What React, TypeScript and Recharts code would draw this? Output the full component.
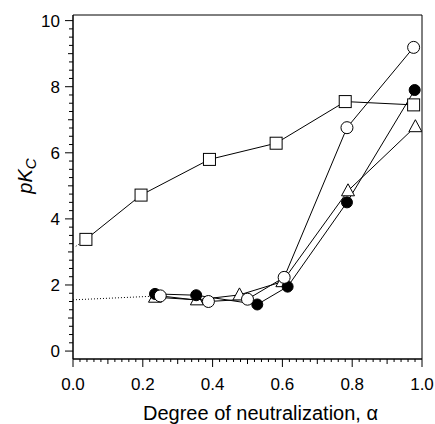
import {
  LineChart,
  Line,
  XAxis,
  YAxis,
  ReferenceArea,
} from 'recharts'

interface Point {
  x: number
  y: number
}

// open squares
const squareAlpha = [0.037, 0.195, 0.391, 0.582, 0.78, 0.976]
const squarePk = [3.38, 4.72, 5.8, 6.29, 7.55, 7.45]

// filled circles
const filledAlpha = [0.235, 0.353, 0.528, 0.615, 0.785, 0.979]
const filledPk = [1.73, 1.69, 1.41, 1.95, 4.5, 7.9]

// open triangles
const triangleAlpha = [0.235, 0.355, 0.477, 0.6, 0.788, 0.981]
const trianglePk = [1.63, 1.55, 1.7, 2.1, 4.85, 6.79]

// open circles
const circleAlpha = [0.25, 0.388, 0.5, 0.605, 0.785, 0.976]
const circlePk = [1.67, 1.5, 1.57, 2.23, 6.76, 9.19]

// dotted extrapolations to alpha = 0
const dottedLowAlpha = [0, 0.23]
const dottedLowPk = [1.55, 1.66]
const dottedSquareAlpha = [0.008, 0.037]
const dottedSquarePk = [3.17, 3.38]

const xMajorLabels = ['0.0', '0.2', '0.4', '0.6', '0.8', '1.0']
const yMajorLabels = ['0', '2', '4', '6', '8', '10']

const toPoints = (xs: number[], ys: number[]): Point[] =>
  xs.map((x, i) => ({ x, y: ys[i] }))

const squares = toPoints(squareAlpha, squarePk)
const filled = toPoints(filledAlpha, filledPk)
const triangles = toPoints(triangleAlpha, trianglePk)
const circles = toPoints(circleAlpha, circlePk)
const dottedLow = toPoints(dottedLowAlpha, dottedLowPk)
const dottedSquare = toPoints(dottedSquareAlpha, dottedSquarePk)

const xTicks: number[] = []
for (let i = 0; i <= 50; i++) xTicks.push(i / 50)
const yTicks: number[] = []
for (let i = 0; i <= 40; i++) yTicks.push(i / 4)

const FONT = '"Liberation Sans", Arial, sans-serif'

const XTick = (props: any) => {
  const { x, y, payload } = props
  const k = Math.round(payload.value * 50)
  const len = k % 10 === 0 ? 8 : k % 5 === 0 ? 5 : 3
  return (
    <g>
      <line x1={x} x2={x} y1={y} y2={y + len} stroke="#000" strokeWidth={1} />
      {k % 10 === 0 && (
        <text x={x} y={y + 31} textAnchor="middle" fontSize={17} fontFamily={FONT} fill="#000">
          {xMajorLabels[k / 10]}
        </text>
      )}
    </g>
  )
}

const YTick = (props: any) => {
  const { x, y, payload } = props
  const k = Math.round(payload.value * 4)
  const len = k % 8 === 0 ? 8 : k % 4 === 0 ? 5 : 4
  return (
    <g>
      <line x1={x - len} x2={x} y1={y} y2={y} stroke="#000" strokeWidth={1} />
      {k % 8 === 0 && (
        <text x={x - 13} y={y} dy="0.36em" textAnchor="end" fontSize={17} fontFamily={FONT} fill="#000">
          {yMajorLabels[k / 8]}
        </text>
      )}
    </g>
  )
}

const XLabel = (props: any) => {
  const { viewBox } = props
  return (
    <text
      x={viewBox.x + viewBox.width / 2 + 13}
      y={viewBox.y + 61}
      textAnchor="middle"
      fontSize={20}
      fontFamily={FONT}
      fill="#000"
    >
      Degree of neutralization, α
    </text>
  )
}

const YLabel = (props: any) => {
  const { viewBox } = props
  const cx = 32
  const cy = viewBox.y + viewBox.height / 2 - 11
  return (
    <text
      x={cx}
      y={cy}
      transform={`rotate(-90 ${cx} ${cy})`}
      textAnchor="middle"
      fontSize={20}
      fontFamily={FONT}
      fontStyle="italic"
      fill="#000"
    >
      pK
      <tspan fontSize={15} dy={4}>
        C
      </tspan>
    </text>
  )
}

const SquareDot = (props: any) => {
  const { cx, cy } = props
  return <rect x={cx - 6} y={cy - 6} width={12} height={12} fill="#fff" stroke="#000" strokeWidth={1} />
}

const TriangleDot = (props: any) => {
  const { cx, cy } = props
  const p = `${cx},${cy - 7} ${cx - 6.5},${cy + 5} ${cx + 6.5},${cy + 5}`
  return <polygon points={p} fill="#fff" stroke="#000" strokeWidth={1} />
}

export default function App() {
  return (
    <div style={{ position: 'absolute', left: 0, top: 0 }}>
      <LineChart
        width={435}
        height={424}
        margin={{ top: 15, right: 13, left: 0, bottom: 0 }}
      >
        <XAxis
          type="number"
          dataKey="x"
          domain={[0, 1]}
          ticks={xTicks}
          interval={0}
          tickSize={0}
          tickMargin={0}
          tickLine={false}
          tick={<XTick />}
          axisLine={{ stroke: '#000' }}
          height={65}
          allowDataOverflow
          label={<XLabel />}
        />
        <YAxis
          type="number"
          dataKey="y"
          domain={[-0.24, 10.17]}
          ticks={yTicks}
          interval={0}
          tickSize={0}
          tickMargin={0}
          tickLine={false}
          tick={<YTick />}
          axisLine={{ stroke: '#000' }}
          width={73}
          allowDataOverflow
          label={<YLabel />}
        />
        <ReferenceArea
          x1={0}
          x2={1}
          y1={-0.24}
          y2={10.17}
          fill="none"
          stroke="#000"
          strokeWidth={1}
        />
        <Line
          data={dottedLow}
          dataKey="y"
          stroke="#000"
          strokeWidth={1}
          strokeDasharray="1 2"
          dot={false}
          isAnimationActive={false}
        />
        <Line
          data={dottedSquare}
          dataKey="y"
          stroke="#000"
          strokeWidth={1}
          strokeDasharray="1 2"
          dot={false}
          isAnimationActive={false}
        />
        <Line
          data={squares}
          dataKey="y"
          stroke="#000"
          strokeWidth={1}
          dot={<SquareDot />}
          isAnimationActive={false}
        />
        <Line
          data={triangles}
          dataKey="y"
          stroke="#000"
          strokeWidth={1}
          dot={<TriangleDot />}
          isAnimationActive={false}
        />
        <Line
          data={filled}
          dataKey="y"
          stroke="#000"
          strokeWidth={1}
          dot={{ r: 5.5, fill: '#000', stroke: '#000', strokeWidth: 1 }}
          isAnimationActive={false}
        />
        <Line
          data={circles}
          dataKey="y"
          stroke="#000"
          strokeWidth={1}
          dot={{ r: 6, fill: '#fff', stroke: '#000', strokeWidth: 1 }}
          isAnimationActive={false}
        />
      </LineChart>
    </div>
  )
}
